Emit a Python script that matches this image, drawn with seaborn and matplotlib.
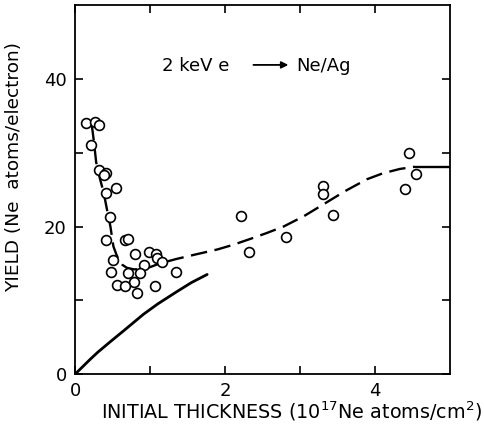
import numpy as np
import pandas as pd
import seaborn as sns
import matplotlib.pyplot as plt

# measured points (thickness in 1e17 Ne atoms/cm2, yield in Ne atoms/electron)
pts_x = [0.14, 0.26, 0.32, 0.21, 0.32, 0.41, 0.38, 0.54, 0.41, 0.47, 0.41, 0.67, 0.71,
         0.50, 0.80, 0.99, 1.08, 1.09, 1.16, 0.92, 0.48, 0.71, 0.87, 1.35, 0.79, 0.56,
         0.66, 1.06, 0.82,
         2.21, 2.32, 2.81, 3.30, 3.30, 3.44, 4.45, 4.40, 4.55]
pts_y = [34.0, 34.2, 33.8, 31.1, 27.6, 27.3, 27.0, 25.2, 24.6, 21.3, 18.2, 18.2, 18.3,
         15.4, 16.3, 16.5, 16.3, 15.7, 15.2, 14.8, 13.8, 13.7, 13.7, 13.9, 12.5, 12.1,
         12.0, 11.9, 11.0,
         21.4, 16.6, 18.6, 25.5, 24.4, 21.6, 30.0, 25.1, 27.1]

# dashed guide curve
fit_x = [0.22, 0.25, 0.28, 0.33, 0.38, 0.43, 0.47, 0.51, 0.55, 0.58, 0.63, 0.69, 0.78,
         0.87, 1.00, 1.13, 1.35, 1.60, 1.90, 2.10, 2.33, 2.55, 2.78, 3.05, 3.31, 3.60,
         3.89, 4.10, 4.33, 4.53]
fit_y = [33.9, 31.5, 28.7, 26.5, 24.6, 22.0, 20.0, 17.3, 16.2, 15.5, 14.8, 14.4, 14.2,
         14.2, 14.5, 15.0, 15.6, 16.2, 16.9, 17.5, 18.3, 19.1, 20.0, 21.4, 23.0, 24.8,
         26.4, 27.2, 27.8, 28.1]
flat_x = [4.53, 5.0]
flat_y = [28.1, 28.1]

# solid curve (low thickness)
calc_x = [0.0, 0.1, 0.2, 0.3, 0.47, 0.65, 0.91, 1.1, 1.36, 1.55, 1.76]
calc_y = [0.0, 1.0, 2.0, 2.95, 4.4, 5.9, 8.1, 9.5, 11.2, 12.4, 13.5]

sns.set_style("ticks")
plt.rcParams["font.family"] = ["DejaVu Sans"]
plt.rcParams["text.color"] = "black"
plt.rcParams["axes.labelcolor"] = "black"

fig = plt.figure(figsize=(4.85, 4.29), dpi=100)
ax = fig.add_axes([0.155, 0.128, 0.773, 0.86])

sns.lineplot(x=fit_x, y=fit_y, ax=ax, color="black", lw=1.7,
             linestyle=(0, (7, 3.2)))
sns.lineplot(x=flat_x, y=flat_y, ax=ax, color="black", lw=1.7)
sns.lineplot(x=calc_x, y=calc_y, ax=ax, color="black", lw=2.0)
sns.scatterplot(x=pts_x, y=pts_y, ax=ax, marker="o", s=50, facecolor="white",
                edgecolor="black", linewidth=1.2, zorder=5)

ax.set_xlim(0, 5)
ax.set_ylim(0, 50)
ax.set_xticks([0, 1, 2, 3, 4])
ax.set_xticklabels(["0", "", "2", "", "4"])
ax.set_yticks([0, 10, 20, 30, 40])
ax.set_yticklabels(["0", "", "20", "", "40"])
ax.tick_params(direction="in", length=6, width=1.2, top=True, right=True,
               labelsize=13, pad=6, colors="black")
for s in ax.spines.values():
    s.set_linewidth(1.3)
    s.set_color("black")

ax.set_xlabel("INITIAL THICKNESS (10$^{17}$Ne atoms/cm$^2$)", fontsize=13.8)
ax.set_ylabel("YIELD (Ne  atoms/electron)", fontsize=13.3)
ax.xaxis.set_label_coords(0.576, -0.07)
ax.yaxis.set_label_coords(-0.14, 0.56)

ax.text(1.16, 41.8, "2 keV e", fontsize=13, va="center", ha="left")
ax.annotate("", xy=(2.88, 41.9), xytext=(2.34, 41.9),
            arrowprops=dict(arrowstyle="-|>", color="black", lw=1.3, mutation_scale=10))
ax.text(2.95, 41.8, "Ne/Ag", fontsize=13, va="center", ha="left")

fig.savefig("out.png", dpi=100)
